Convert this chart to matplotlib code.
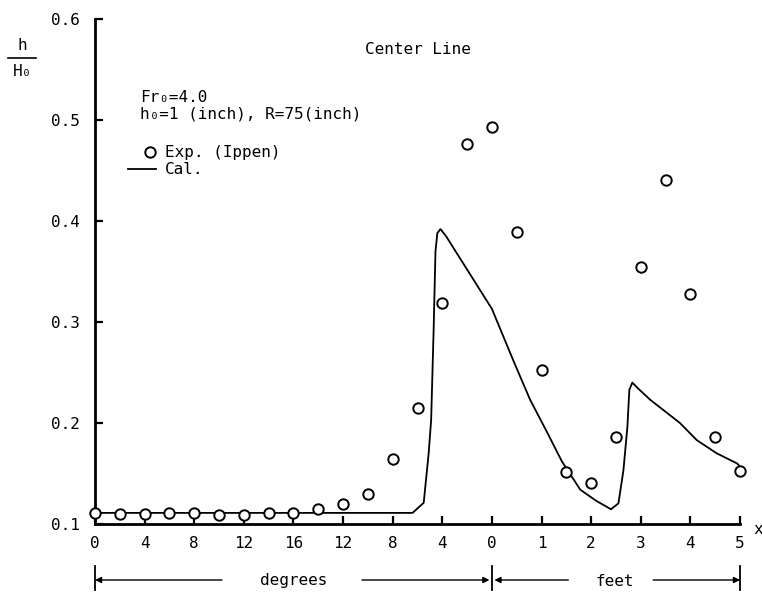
import numpy as np
import matplotlib.pyplot as plt
from matplotlib.lines import Line2D

plt.rcParams['font.family'] = ['DejaVu Sans Mono']
plt.rcParams['font.size'] = 11.5

# x axis: degrees 0..16 going in, 16..0 coming out, then feet 0..5
tick_labels = ['0', '4', '8', '12', '16', '12', '8', '4', '0', '1', '2', '3', '4', '5']

# Exp. (Ippen), center line
exp_deg_in = [0, 2, 4, 6, 8, 10, 12, 14, 16]
exp_h_in = [0.111, 0.110, 0.110, 0.111, 0.111, 0.109, 0.109, 0.111, 0.111]
exp_deg_out = [14, 12, 10, 8, 6, 4, 2, 0]
exp_h_out = [0.115, 0.120, 0.130, 0.164, 0.215, 0.319, 0.476, 0.493]
exp_feet = [0.5, 1.0, 1.5, 2.0, 2.5, 3.0, 3.5, 4.0, 4.5, 5.0]
exp_h_feet = [0.389, 0.252, 0.151, 0.141, 0.186, 0.354, 0.441, 0.328, 0.186, 0.152]

# Cal.
cal_deg_in = [0, 16]
cal_h_in = [0.111, 0.111]
cal_deg_out = [16, 6.4, 5.5, 5.1, 4.9, 4.7, 4.55, 4.4, 4.15, 3.7, 0.0]
cal_h_out = [0.111, 0.111, 0.121, 0.170, 0.203, 0.292, 0.370, 0.388, 0.392, 0.385, 0.313]
cal_feet = [0.43, 0.77, 1.11, 1.41, 1.78, 2.1, 2.40, 2.55, 2.65, 2.73, 2.77, 2.83,
            2.95, 3.19, 3.79, 4.13, 4.53, 4.94, 5.0]
cal_h_feet = [0.262, 0.223, 0.191, 0.162, 0.134, 0.123, 0.1146, 0.1205, 0.153, 0.196,
              0.233, 0.240, 0.234, 0.223, 0.200, 0.183, 0.170, 0.160, 0.157]


def pos_in(d):
    return np.array(d) / 4.0


def pos_out(d):
    return 4 + (16 - np.array(d)) / 4.0


def pos_feet(f):
    return 8 + np.array(f)


fig = plt.figure(figsize=(7.62, 5.99), dpi=100)
W, H = 762.0, 599.0
x0, x1, y0, y1 = 95, 740, 524, 19
ax = fig.add_axes([x0 / W, 1 - y0 / H, (x1 - x0) / W, (y0 - y1) / H])

ex = np.concatenate([pos_in(exp_deg_in), pos_out(exp_deg_out), pos_feet(exp_feet)])
ey = np.concatenate([exp_h_in, exp_h_out, exp_h_feet])
cx = np.concatenate([pos_in(cal_deg_in), pos_out(cal_deg_out), pos_feet(cal_feet)])
cy = np.concatenate([cal_h_in, cal_h_out, cal_h_feet])

ax.plot(cx, cy, color='black', lw=1.3, zorder=2)
ax.plot(ex, ey, 'o', ms=7.5, mfc='white', mec='black', mew=1.4, zorder=3, clip_on=False)

ax.set_xlim(0, 13)
ax.set_ylim(0.1, 0.6)
ax.set_xticks(np.arange(14))
ax.set_xticklabels(tick_labels)
ax.set_yticks([0.1, 0.2, 0.3, 0.4, 0.5, 0.6])
ax.set_yticklabels(['0.1', '0.2', '0.3', '0.4', '0.5', '0.6'])
ax.tick_params(direction='in', length=6, width=1.6, color='black')
ax.tick_params(axis='x', pad=9)
ax.tick_params(axis='y', pad=11)
for s in ['top', 'right']:
    ax.spines[s].set_visible(False)
for s in ['left', 'bottom']:
    ax.spines[s].set_linewidth(2)


def fy(py):
    # pixel row -> axes fraction
    return (y0 - py) / (y0 - y1)


def fx(px):
    return (px - x0) / (x1 - x0)


# text inside the plot
ax.text(fx(418), fy(50), 'Center Line', transform=ax.transAxes, ha='center', va='center')
ax.text(fx(140), fy(97), 'Fr\u2080=4.0', transform=ax.transAxes, va='center')
ax.text(fx(140), fy(114), 'h\u2080=1 (inch), R=75(inch)', transform=ax.transAxes, va='center')
ax.plot([fx(150)], [fy(152)], 'o', ms=7.5, mfc='white', mec='black',
        mew=1.4, transform=ax.transAxes)
ax.text(fx(165), fy(152), 'Exp. (Ippen)', transform=ax.transAxes, va='center')
ax.plot([fx(128), fx(156)], [fy(169), fy(169)], color='black',
        lw=1.3, transform=ax.transAxes)
ax.text(fx(165), fy(169), 'Cal.', transform=ax.transAxes, va='center')

# y label h/H0
fig.text(22 / W, 1 - 45 / H, 'h', ha='center', va='center')
fig.add_artist(Line2D([8 / W, 36 / W], [1 - 58 / H, 1 - 58 / H], color='black', lw=1.2))
fig.text(22 / W, 1 - 72 / H, 'H\u2080', ha='center', va='center')

# x at end of axis
ax.text(fx(758), fy(530), 'x', transform=ax.transAxes, ha='center', va='center', clip_on=False)

# degrees / feet arrows under the axis
tr = ax.get_xaxis_transform()
ya = fy(580)
for xb in [0, 8, 13]:
    ax.plot([xb, xb], [fy(566), fy(590)], color='black', lw=1.3, transform=tr, clip_on=False)
arr = dict(arrowstyle='-|>', color='black', lw=1.0, mutation_scale=9, shrinkA=0, shrinkB=0)
ax.annotate('', xy=(0, ya), xytext=(2.56, ya), xycoords=tr, textcoords=tr, arrowprops=arr)
ax.annotate('', xy=(7.95, ya), xytext=(5.38, ya), xycoords=tr, textcoords=tr, arrowprops=arr)
ax.annotate('', xy=(8.05, ya), xytext=(9.54, ya), xycoords=tr, textcoords=tr, arrowprops=arr)
ax.annotate('', xy=(13, ya), xytext=(11.25, ya), xycoords=tr, textcoords=tr, arrowprops=arr)
ax.text(4.01, fy(581), 'degrees', transform=tr, ha='center', va='center')
ax.text(10.48, fy(581), 'feet', transform=tr, ha='center', va='center')

plt.savefig('out.png', dpi=100)
